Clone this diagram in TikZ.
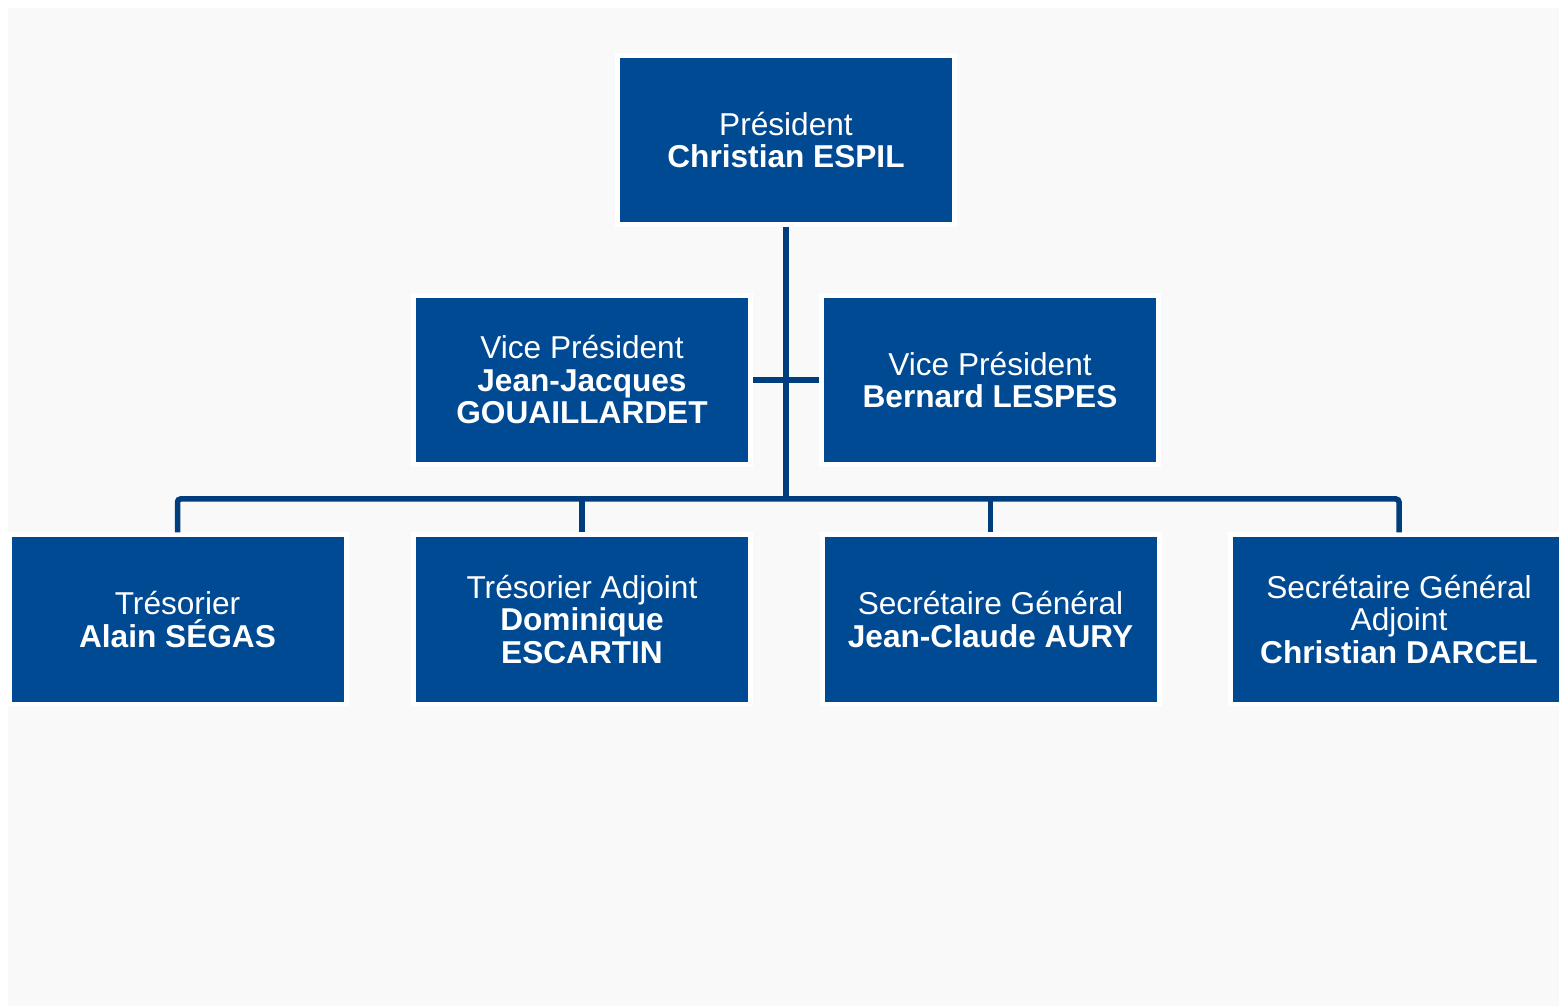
\documentclass[tikz,border=0pt]{standalone}
\usepackage{fontspec}
\setmainfont{Liberation Sans}
\definecolor{boxblue}{HTML}{004A93}
\definecolor{linkblue}{HTML}{003D7C}
\definecolor{pagegrey}{HTML}{F9F9F9}
\tikzset{
    post/.style={fill=boxblue, text=white, minimum width=332*0.02cm, minimum height=164*0.02cm,
        inner sep=0pt, outer sep=0.1cm, align=center,
        font=\fontsize{18}{18.5}\selectfont,
        preaction={draw=white, line width=0.2cm}},
    link/.style={draw=linkblue, line width=0.11cm}
}
\begin{document}
\begin{tikzpicture}[x=0.02cm,y=-0.02cm]
    \useasboundingbox (0,0) rectangle (1559,1006);
    \fill[pagegrey] (8,8) rectangle (1559,1006);
    %% boxes
    \node[post] (pres) at (786,140) {Président\\\textbf{Christian ESPIL}};
    \node[post] (vpa) at (582,380) {Vice Président\\\textbf{Jean-Jacques}\\\textbf{GOUAILLARDET}};
    \node[post] (vpb) at (990,380) {Vice Président\\\textbf{Bernard LESPES}};
    \node[post] (tres) at (177.5,619.5) {Trésorier\\\textbf{Alain SÉGAS}};
    \node[post] (tresadj) at (582,619.5) {Trésorier Adjoint\\\textbf{Dominique}\\\textbf{ESCARTIN}};
    \node[post] (secgen) at (990.5,619.5) {Secrétaire Général\\\textbf{Jean-Claude AURY}};
    \node[post] (secadj) at (1399,619.5) {Secrétaire Général\\Adjoint\\\textbf{Christian DARCEL}};
    \coordinate (hub) at (786,499);
    %% links
    \draw[link] (pres.south) -- (hub);
    \draw[link] (vpa.east) -- (vpb.west);
    \draw[link, rounded corners=0.06cm] (tres.north) |- (hub) -| (secadj.north);
    \foreach \n in {tresadj,secgen}
        \draw[link] (\n.north) -- (\n.north |- hub);
\end{tikzpicture}
\end{document}
